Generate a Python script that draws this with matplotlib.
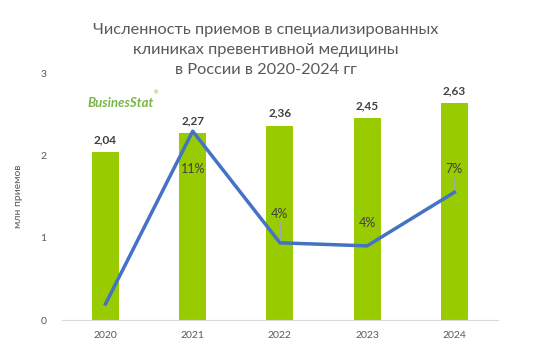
import matplotlib.pyplot as plt

# данные
years = ["2020", "2021", "2022", "2023", "2024"]
visits = [2.04, 2.27, 2.36, 2.45, 2.63]
growth = [0.0, 11.3, 4.0, 3.8, 7.3]
growth_labels = ["", "11%", "4%", "4%", "7%"]
label_y = [None, 8.8, 5.9, 5.3, 8.8]  # положение подписей процентов (на правой оси)

plt.rcParams['font.family'] = ['Lato', 'DejaVu Sans']

fig = plt.figure(figsize=(5.43, 3.58), dpi=100)
ax = fig.add_axes([0.114, 0.106, 0.803, 0.69])

x = range(len(years))
ax.bar(x, visits, width=0.31, color="#99CC00", zorder=2)
for i, v in enumerate(visits):
    ax.annotate(f"{v:.2f}".replace(".", ","), (i, v), xytext=(0, 5),
                textcoords="offset points", ha="center", va="bottom",
                fontsize=8.5, fontweight="bold", color="#404040")

ax.set_ylim(0, 3)
ax.set_xlim(-0.5, 4.5)
ax.set_yticks([0, 1, 2, 3])
ax.set_xticks(list(x))
ax.set_xticklabels(years)
ax.tick_params(length=0, labelsize=7.5, colors="#595959")
ax.tick_params(axis="y", pad=11)
ax.tick_params(axis="x", pad=8)
for s in ["top", "right", "left"]:
    ax.spines[s].set_visible(False)
ax.spines["bottom"].set_color("#D9D9D9")
ax.set_ylabel("млн приемов", fontsize=7.5, color="#595959", labelpad=13)

# линия прироста на вспомогательной оси
ax2 = ax.twinx()
ax2.plot(x, growth, color="#4472C4", linewidth=2.5, zorder=3)
ax2.set_ylim(-1.05, 15.1)
ax2.axis("off")
for i, (g, lab, ly) in enumerate(zip(growth, growth_labels, label_y)):
    if not lab:
        continue
    end = ly - 0.55 if ly > g else ly + 0.55
    ax2.plot([i, i], [g, end], color="#A6A6A6", linewidth=0.8, zorder=2)
    ax2.text(i, ly, lab, ha="center", va="center",
             fontsize=9, color="#404040", zorder=4)

fig.text(0.49, 0.935, "Численность приемов в специализированных\nклиниках превентивной медицины\nв России в 2020-2024 гг",
         ha="center", va="top", fontsize=11.8, color="#595959", linespacing=1.55)

# логотип
fig.text(0.162, 0.70, "BusinesStat", fontsize=9.5, fontweight="bold", style="italic",
         color="#7AB648")
fig.text(0.283, 0.735, "®", fontsize=4, color="#7AB648")

plt.savefig("out.png", dpi=100)
